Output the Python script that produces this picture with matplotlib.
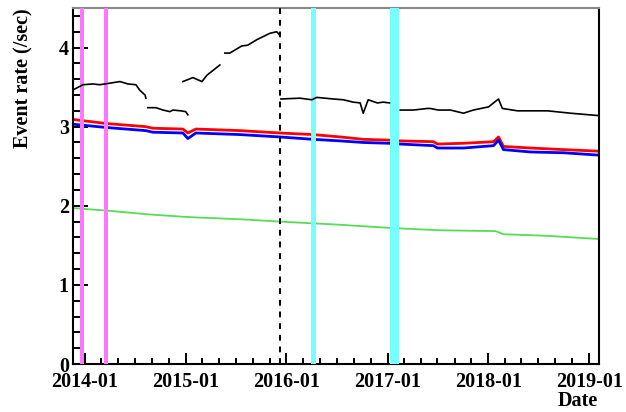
import matplotlib
matplotlib.use('Agg')
import matplotlib.pyplot as plt
import matplotlib.dates as mdates
import pandas as pd
import numpy as np

# black (total) rate, None = gap in the data
black_dates = ['2013-11-22', '2013-12-25', '2014-01-30', '2014-02-24', '2014-04-02',
               '2014-05-08', '2014-06-06', '2014-07-05', '2014-07-19', '2014-08-07',
               '2014-08-10', None,
               '2014-08-17', '2014-09-15', '2014-10-11', '2014-11-05', '2014-11-16',
               '2014-12-15', '2015-01-01', '2015-01-09', None,
               '2014-12-22', '2015-01-27', '2015-02-03', '2015-03-01', '2015-03-19',
               '2015-05-05', None,
               '2015-05-23', '2015-06-10', '2015-07-23', '2015-08-14', '2015-09-16',
               '2015-11-02', '2015-11-27', '2015-12-07', None,
               '2015-12-12', '2016-02-19', '2016-04-02', '2016-04-20', '2016-06-18',
               '2016-07-25', '2016-08-30', '2016-09-24', '2016-10-05', '2016-10-23',
               '2016-11-25', '2016-12-17', '2017-01-08', None,
               '2017-02-16', '2017-04-05', '2017-05-25', '2017-06-05', '2017-07-04',
               '2017-08-17', '2017-10-03', '2017-11-08', '2018-01-02', '2018-02-07',
               '2018-02-21', '2018-04-17', '2018-08-04', '2018-10-26', '2019-02-04']
black_rate = [3.47, 3.53, 3.54, 3.53, 3.55,
              3.57, 3.54, 3.53, 3.46, 3.40,
              3.36, None,
              3.24, 3.24, 3.21, 3.19, 3.21,
              3.20, 3.19, 3.15, None,
              3.57, 3.62, 3.61, 3.57, 3.65,
              3.78, None,
              3.93, 3.93, 4.02, 4.03, 4.10,
              4.18, 4.20, 4.16, None,
              3.35, 3.36, 3.34, 3.37, 3.35,
              3.34, 3.31, 3.30, 3.17, 3.34,
              3.30, 3.31, 3.30, None,
              3.21, 3.21, 3.23, 3.23, 3.21,
              3.21, 3.17, 3.21, 3.25, 3.35,
              3.23, 3.20, 3.20, 3.17, 3.14]

red_dates = ['2013-11-22', '2014-03-18', '2014-08-10', '2014-09-04', '2014-12-22',
             '2015-01-09', '2015-02-07', '2015-07-16', '2015-12-08', '2016-04-06',
             '2016-07-14', '2016-10-05', '2017-01-04', '2017-02-16', '2017-06-16',
             '2017-07-01', '2017-10-03', '2018-01-20', '2018-02-07', '2018-02-25',
             '2018-06-03', '2018-10-01', '2019-02-05']
red_rate = [3.09, 3.04, 3.00, 2.98, 2.97,
            2.92, 2.97, 2.95, 2.92, 2.90,
            2.87, 2.84, 2.83, 2.82, 2.81,
            2.78, 2.79, 2.81, 2.87, 2.75,
            2.73, 2.71, 2.69]
blue_rate = [3.03, 2.99, 2.95, 2.93, 2.92,
             2.85, 2.92, 2.90, 2.87, 2.84,
             2.82, 2.80, 2.79, 2.78, 2.76,
             2.73, 2.73, 2.76, 2.83, 2.71,
             2.68, 2.67, 2.64]

green_dates = ['2013-11-22', '2014-03-18', '2014-08-24', '2014-12-29', '2015-02-22',
               '2015-07-16', '2015-12-08', '2016-07-14', '2017-01-11', '2017-07-11',
               '2018-01-27', '2018-02-25', '2018-08-04', '2019-02-05']
green_rate = [1.97, 1.94, 1.89, 1.86, 1.85,
              1.83, 1.80, 1.76, 1.72, 1.69,
              1.68, 1.64, 1.62, 1.58]

magenta_bands = [('2013-12-13', '2013-12-28'), ('2014-03-10', '2014-03-25')]
cyan_bands = [('2016-03-30', '2016-04-16'), ('2017-01-11', '2017-02-12')]
dashed_date = '2015-12-08'

x_start, x_end = '2013-11-19', '2019-02-06'


def to_series(dates, values):
    d = [pd.Timestamp(s) if s is not None else pd.NaT for s in dates]
    v = [np.nan if x is None else x for x in values]
    return d, v


plt.rcParams['font.family'] = 'Liberation Serif'
plt.rcParams['font.weight'] = 'bold'
plt.rcParams['axes.labelweight'] = 'bold'
plt.rcParams['font.size'] = 14.5

fig = plt.figure(figsize=(6.26, 4.12), dpi=100)
ax = fig.add_axes([0.1166, 0.1165, 0.8403, 0.8641])

bx, by = to_series(black_dates, black_rate)
# fill NaT with neighbouring date so the gaps break the line
bx = pd.Series(bx).ffill().tolist()
ax.plot(bx, by, color='black', lw=1.2, zorder=4)

rx, ry = to_series(red_dates, red_rate)
ax.plot(rx, ry, color='#ff0000', lw=2.0, zorder=2)
ax.plot(rx, blue_rate, color='#0000ff', lw=2.0, zorder=2)

gx, gy = to_series(green_dates, green_rate)
ax.plot(gx, gy, color='#55dd55', lw=1.3, zorder=2)

for a, b in magenta_bands:
    ax.axvspan(pd.Timestamp(a), pd.Timestamp(b), color='#ff77ff', lw=0, zorder=3)
for a, b in cyan_bands:
    ax.axvspan(pd.Timestamp(a), pd.Timestamp(b), color='#77ffff', lw=0, zorder=3)

ax.axvline(pd.Timestamp(dashed_date), color='black', ls=(0, (3, 3)), lw=1.4, zorder=5)

ax.set_xlim(pd.Timestamp(x_start), pd.Timestamp(x_end))
ax.set_ylim(0, 4.5)

ax.xaxis.set_major_locator(mdates.YearLocator())
ax.xaxis.set_minor_locator(mdates.MonthLocator(bymonth=[3, 5, 7, 9, 11]))
ax.xaxis.set_major_formatter(mdates.DateFormatter('%Y-%m'))
ax.yaxis.set_major_locator(plt.MultipleLocator(1))
ax.yaxis.set_minor_locator(plt.MultipleLocator(0.2))

ax.tick_params(axis='x', which='major', direction='in', length=8, width=1.4, pad=6)
ax.tick_params(axis='x', which='minor', direction='in', length=4, width=1.4)
ax.tick_params(axis='y', which='major', direction='in', length=11, width=1.4, pad=3)
ax.tick_params(axis='y', which='minor', direction='in', length=6, width=1.4)

for s in ['left', 'bottom', 'right']:
    ax.spines[s].set_linewidth(1.5)
ax.spines['top'].set_color('#888888')
ax.spines['top'].set_linewidth(1.5)

ax.set_ylabel('Event rate (/sec)', loc='top')
ax.yaxis.set_label_coords(-0.076, 1.0)
ax.set_xlabel('Date', loc='right')
ax.xaxis.set_label_coords(0.998, -0.075)

fig.savefig('out.png', dpi=100)
